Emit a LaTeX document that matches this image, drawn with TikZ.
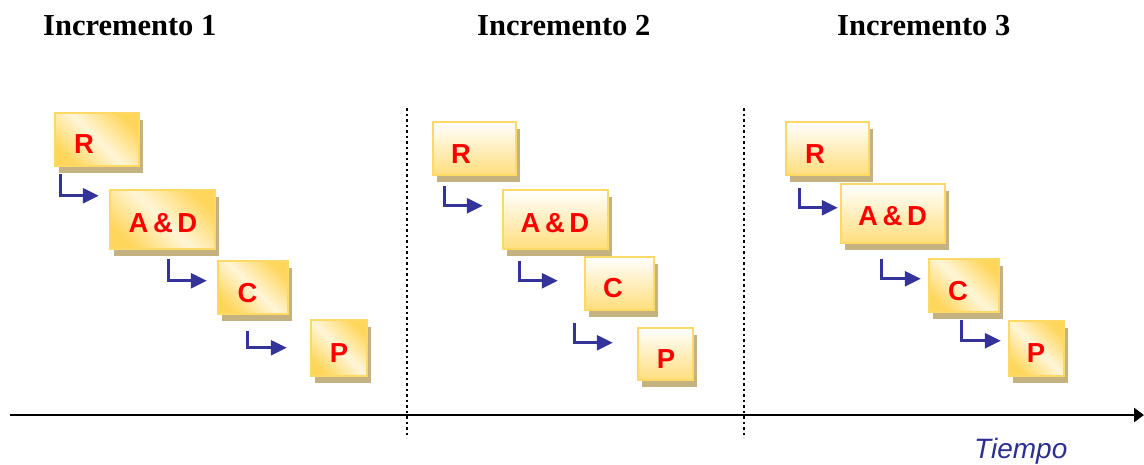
\documentclass[tikz,border=0pt]{standalone}
\usepackage{fontspec}
\usetikzlibrary{arrows.meta,calc,shadows}
\newfontfamily\headfont{Liberation Serif}
\newfontfamily\boxfont{Liberation Sans}
\definecolor{boxborder}{RGB}{255,217,102}
\definecolor{boxdark}{RGB}{255,214,92}
\definecolor{boxlight}{RGB}{255,246,216}
\definecolor{boxbottom}{RGB}{255,222,125}
\definecolor{shadowc}{RGB}{196,178,128}
\definecolor{flowblue}{RGB}{51,51,153}
\definecolor{timeblue}{RGB}{43,47,143}
\definecolor{lblred}{RGB}{255,0,0}
\tikzset{
  boxbase/.style={draw=boxborder, line width=2.5pt, inner sep=0pt,
    drop shadow={shadow xshift=4pt, shadow yshift=-6.5pt, fill=shadowc, opacity=1}},
  diagbox/.style={boxbase, top color=boxdark, bottom color=boxdark, middle color=boxlight, shading angle=-45},
  vertbox/.style={boxbase, top color=white, bottom color=boxbottom},
  lbl/.style={anchor=base, text=lblred, font=\boxfont\bfseries\fontsize{27.5}{32}\selectfont, inner sep=0pt},
  head/.style={anchor=base west, inner sep=0pt, font=\headfont\bfseries\fontsize{30.5}{36}\selectfont},
  flow/.style={draw=flowblue, line width=2.6pt, -{Triangle[length=16pt,width=15pt]}},
  sep/.style={line width=2.5pt, dash pattern=on 2.5pt off 3pt},
}
\begin{document}
\begin{tikzpicture}[x=1pt,y=-1pt]
\useasboundingbox (0,0) rectangle (1144,464);

% headings
\node[head] (h1) at (43,35) {Incremento 1};
\node[head] (h2) at (477,35) {Incremento 2};
\node[head] (h3) at (837,35) {Incremento 3};

% separators
\coordinate (s1t) at (407,108); \coordinate (s1b) at (407,438);
\coordinate (s2t) at (744,108); \coordinate (s2b) at (744,438);
\draw[sep] (s1t) -- (s1b);
\draw[sep] (s2t) -- (s2b);

% timeline
\coordinate (tl) at (10,415); \coordinate (tr) at (1144,415);
\draw[line width=2.5pt, -{Triangle[length=10pt,width=14pt]}] (tl) -- (tr);
\node[anchor=base west, inner sep=0pt, text=timeblue, font=\boxfont\itshape\fontsize{28}{32}\selectfont] (tiempo) at (974,458) {Tiempo};

% Increment 1
\node[diagbox, minimum width=84pt, minimum height=53pt] (R1) at (97,139.5) {};
\node[diagbox, minimum width=105pt, minimum height=59pt] (AD1) at (162.5,219.5) {};
\node[diagbox, minimum width=70pt, minimum height=53pt] (C1) at (253,287.5) {};
\node[diagbox, minimum width=56pt, minimum height=56pt] (P1) at (339,348) {};
\node[lbl] (tR1) at (84,153) {R};
\node[lbl] (tAD1) at (163,232) {A\,\&\,D};
\node[lbl] (tC1) at (247.5,302) {C};
\node[lbl] (tP1) at (339,362) {P};
\draw[flow] ($(R1.south west)+(7,7)$) |- ($(AD1.north west)+(-10,7)$);
\draw[flow] ($(AD1.south west)+(60,9)$) |- ($(C1.north west)+(-10,21)$);
\draw[flow] ($(C1.south west)+(31,16)$) |- ($(P1.north west)+(-23,29)$);

% Increment 2
\node[vertbox, minimum width=83pt, minimum height=53pt] (R2) at (474.5,148.5) {};
\node[vertbox, minimum width=105pt, minimum height=59pt] (AD2) at (555.5,219.5) {};
\node[vertbox, minimum width=69pt, minimum height=53pt] (C2) at (619.5,283.5) {};
\node[vertbox, minimum width=55pt, minimum height=52pt] (P2) at (665.5,354) {};
\node[lbl] (tR2) at (461,163) {R};
\node[lbl] (tAD2) at (555,232) {A\,\&\,D};
\node[lbl] (tC2) at (613,297) {C};
\node[lbl] (tP2) at (666,368) {P};
\draw[flow] ($(R2.south west)+(13,10)$) |- ($(AD2.north west)+(-19,17)$);
\draw[flow] ($(AD2.south west)+(18,11)$) |- ($(C2.north west)+(-26,25)$);
\draw[flow] ($(C2.south west)+(-9,12)$) |- ($(P2.north west)+(-24,16)$);

% Increment 3
\node[vertbox, minimum width=83pt, minimum height=53pt] (R3) at (827.5,148.5) {};
\node[vertbox, minimum width=104pt, minimum height=59pt] (AD3) at (893,213.5) {};
\node[diagbox, minimum width=70pt, minimum height=53pt] (C3) at (964,285.5) {};
\node[diagbox, minimum width=55pt, minimum height=55pt] (P3) at (1036.5,348.5) {};
\node[lbl] (tR3) at (815,163) {R};
\node[lbl] (tAD3) at (892.5,225.5) {A\,\&\,D};
\node[lbl] (tC3) at (958,300) {C};
\node[lbl] (tP3) at (1036,362) {P};
\draw[flow] ($(R3.south west)+(15,12)$) |- ($(AD3.north west)+(-2,25)$);
\draw[flow] ($(AD3.south west)+(42,15)$) |- ($(C3.north west)+(-7,21)$);
\draw[flow] ($(C3.south west)+(34,7)$) |- ($(P3.north west)+(-7,21)$);
\end{tikzpicture}
\end{document}
